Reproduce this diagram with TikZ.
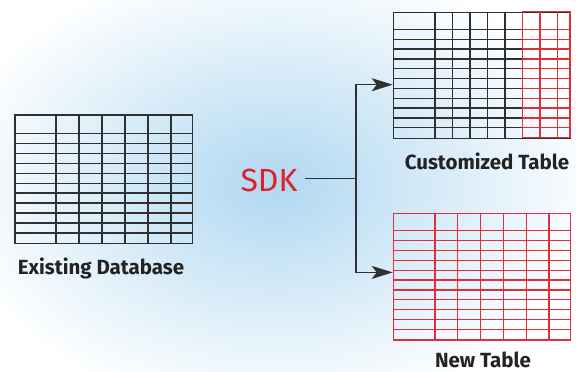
\documentclass[tikz,border=0pt]{standalone}
\usepackage{fontspec}
\setmainfont{Fira Sans}
\usetikzlibrary{positioning, arrows.meta}
\usepackage{xcolor}
\definecolor{sdkred}{RGB}{224,32,40}
\definecolor{gridred}{RGB}{226,46,56}
\definecolor{gridblack}{RGB}{48,48,48}
\definecolor{haze}{RGB}{176,216,241}
\definecolor{titletext}{RGB}{35,35,35}

\begin{document}
\begin{tikzpicture}[
                x=1pt, y=-1pt,
                tbl/.style={rectangle, draw=gridblack, line width=1.4pt, inner sep=0pt, anchor=north west},
                redtbl/.style={tbl, draw=gridred},
                rule/.style={line width=1.3pt, gridblack},
                redrule/.style={rule, gridred},
                tbltitle/.style={anchor=base, inner sep=0pt, text=titletext, font=\fontsize{20.5}{24}\selectfont\bfseries},
                link/.style={draw=gridblack, line width=1.3pt},
                arrow/.style={link, -{Stealth[length=21pt, width=13pt, inset=5pt]}}
            ]
            \useasboundingbox (0,0) rectangle (576,372);

            % Background glow
            \fill[white] (0,0) rectangle (576,372);
            \begin{scope}
                \clip (0,0) rectangle (576,372);
                \shade[inner color=haze, outer color=white] (275,185) ellipse (330 and 230);
            \end{scope}

            % Existing database
            \node[tbl, minimum width=177.4pt, minimum height=128.7pt] (existing) at (14.3,114.3) {};
            \foreach \x in {56,79,102,125,148,171}
                \draw[rule] (\x,114.3) -- (\x,243);
            \foreach \k in {0,...,10}
                \draw[rule] (14.3,{133.3+9.97*\k}) -- (191.7,{133.3+9.97*\k});
            \node[tbltitle] (existinglbl) at (101,274.7) {Existing Database};

            % Customized table
            \node[tbl, minimum width=177.3pt, minimum height=126pt] (custom) at (392.7,11.7) {};
            \foreach \x in {435,452.5,470,487.5,505}
                \draw[rule] (\x,11.7) -- (\x,137.7);
            \foreach \k in {0,...,10} {
                \draw[rule] (392.7,{29.3+9.85*\k}) -- (522.5,{29.3+9.85*\k});
                \draw[redrule] (522.5,{29.3+9.85*\k}) -- (570,{29.3+9.85*\k});
            }
            \foreach \x in {540,557.5}
                \draw[redrule] (\x,11.7) -- (\x,137.7);
            \draw[redrule, line width=1.4pt] (522.5,11.7) rectangle (570,137.7);
            \node[tbltitle] (customlbl) at (487,169) {Customized Table};

            % New table
            \node[redtbl, minimum width=177.3pt, minimum height=126.6pt] (newtbl) at (392.7,212.7) {};
            \foreach \x in {435,457.8,480.6,503.4,526.2,549}
                \draw[redrule] (\x,212.7) -- (\x,339.3);
            \foreach \k in {0,...,10}
                \draw[redrule] (392.7,{230.7+9.87*\k}) -- (570,{230.7+9.87*\k});
            \node[tbltitle] (newlbl) at (483,367.5) {New Table};

            % SDK and fork
            \node[anchor=base, inner xsep=7pt, text=sdkred, font=\fontsize{32}{36}\selectfont] (sdk) at (269,191.7) {SDK};
            \coordinate (fork) at (356,178.3);

            \draw[link] (sdk.east |- fork) -- (fork);
            \draw[arrow] (fork) |- ([yshift=-9.3pt]custom.west);
            \draw[arrow] (fork) |- ([yshift=4.3pt]newtbl.west);
        \end{tikzpicture}
\end{document}
